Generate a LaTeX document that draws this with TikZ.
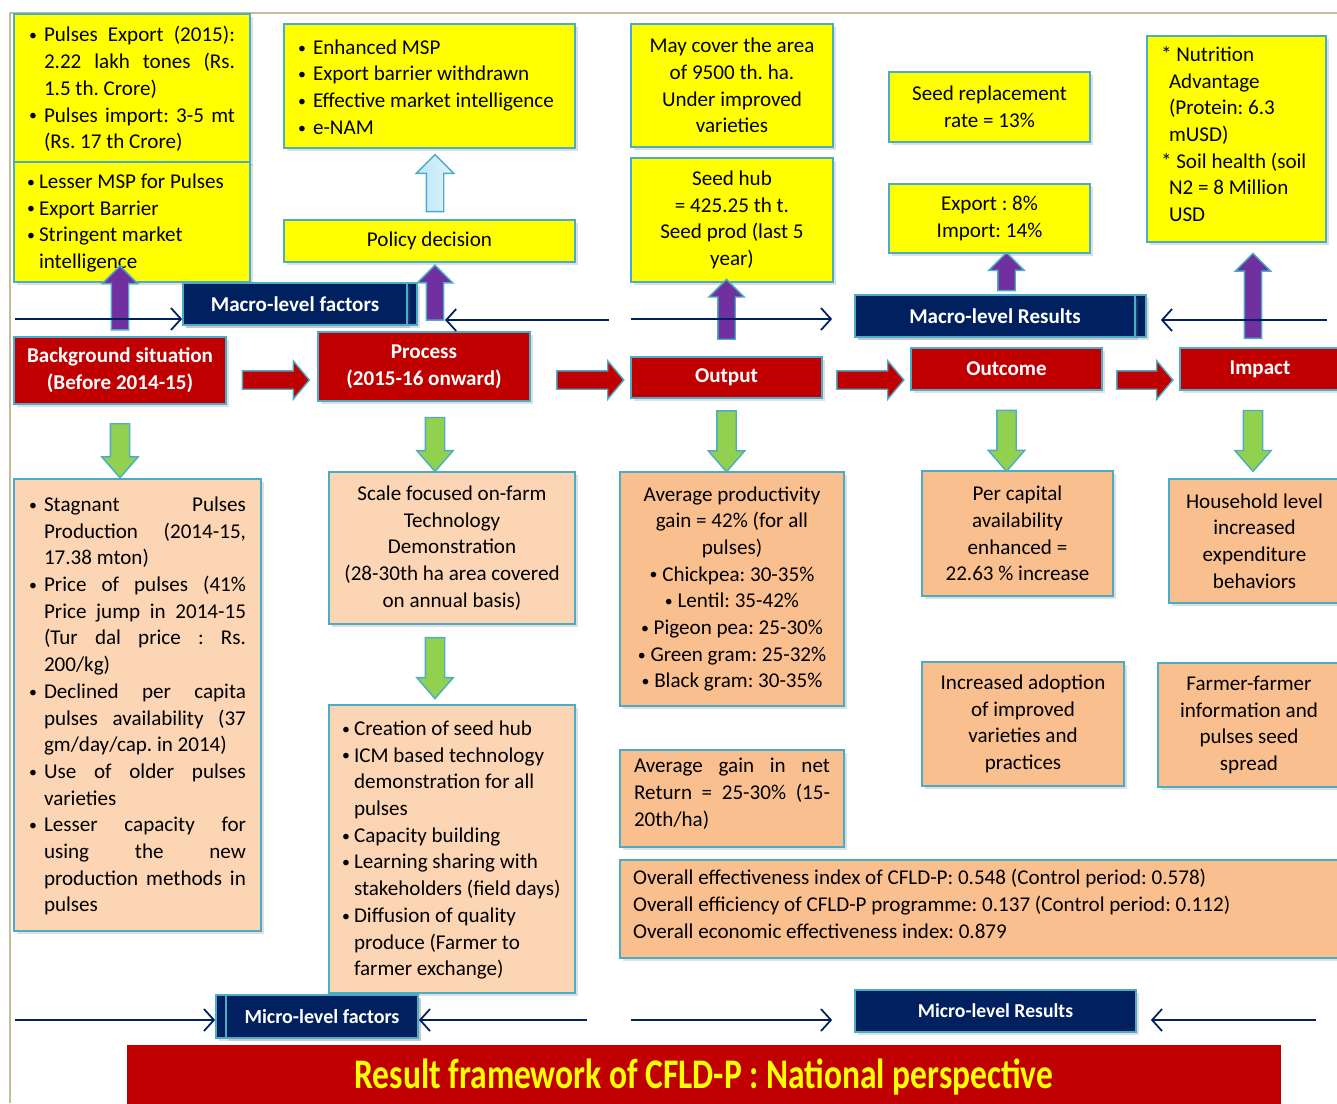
\documentclass[tikz,border=0pt]{standalone}
\usepackage{fontspec}
\setmainfont{Carlito}
\usetikzlibrary{positioning,calc,shapes.arrows,arrows.meta,shadows}

\definecolor{navyb}{RGB}{0,32,96}
\definecolor{redb}{RGB}{192,0,0}
\definecolor{cyanb}{RGB}{75,172,198}
\definecolor{yelb}{RGB}{255,255,0}
\definecolor{peachl}{RGB}{252,213,180}
\definecolor{peachd}{RGB}{250,191,143}
\definecolor{purpb}{RGB}{112,48,160}
\definecolor{greenb}{RGB}{146,208,80}
\definecolor{skyb}{RGB}{185,230,250}
\definecolor{frameb}{RGB}{196,189,151}

\frenchspacing
% small bullet, and bullet paragraph with hanging indent
\newcommand{\dotb}{\raisebox{0.12ex}{\scalebox{0.75}{\textbullet}}}
\newcommand{\bul}[1][0.3cm]{\par\hangindent=#1\hangafter=1\noindent\makebox[#1][l]{\dotb}\ignorespaces}
\newcommand{\parend}{\par\vspace*{0.2cm}}
\newcommand{\tightsp}{\spaceskip=0pt\xspaceskip=0pt}

\begin{document}
\begin{tikzpicture}[x=0.02cm, y=-0.02cm,
    font=\fontsize{12}{15.2}\selectfont,
    box/.style={rectangle, draw=cyanb, line width=1pt, align=center, inner sep=0pt,
        drop shadow={opacity=0.25, shadow xshift=1.5pt, shadow yshift=-1.5pt}},
    para/.style={text width=#1, execute at begin node=\tightsp, execute at end node=\parend},
    ybox/.style={box, fill=yelb},
    pbox/.style={box, fill=peachl},
    obox/.style={box, fill=peachd},
    rbox/.style={box, fill=redb, text=white, font=\fontsize{12}{15.2}\selectfont\bfseries},
    nbox/.style={box, fill=navyb, text=white, font=\fontsize{12}{15.2}\selectfont\bfseries},
    blk/.style={single arrow, draw=cyanb, line width=0.8pt, inner xsep=0pt, minimum width=0pt},
    redarr/.style={blk, fill=redb, inner ysep=0.17cm, single arrow head extend=0.2cm,
        single arrow tip angle=100, minimum height=1.34cm},
    purparr/.style={blk, fill=purpb, rotate=90, inner ysep=0.16cm,
        single arrow head extend=0.18cm, minimum height=#1},
    skyarr/.style={blk, left color=skyb, right color=skyb!45!white, rotate=90, inner ysep=0.16cm,
        single arrow head extend=0.2cm, minimum height=1.14cm},
    greenarr/.style={blk, fill=greenb, rotate=-90, inner ysep=0.18cm,
        single arrow head extend=0.17cm, single arrow tip angle=82, minimum height=#1},
    navyline/.style={draw=navyb, line width=1pt, -{Straight Barb[length=0.2cm, width=0.44cm]}}
]
    \useasboundingbox (0,0) rectangle (1337,1103);
    \draw[frameb, line width=1.2pt] (10,1103) -- (10,13) -- (1337,13);

    % top row
    \node[ybox, minimum width=4.72cm, minimum height=2.98cm, para=4.12cm, align=justify] (export) at (132,88.5)
        {\bul Pulses Export (2015):\linebreak 2.22 lakh tones (Rs.\linebreak 1.5 th. Crore)\bul Pulses import: 3-5 mt\linebreak (Rs. 17 th Crore)\par};
    \node[ybox, minimum width=4.72cm, minimum height=2.36cm, para=4.2cm, align=left] (lessmsp) at (132,222)
        {\bul[0.24cm] Lesser MSP for Pulses\bul[0.24cm] Export Barrier\bul[0.24cm] Stringent market\newline intelligence\par};
    \node[ybox, minimum width=5.82cm, minimum height=2.48cm, para=5.26cm, align=left] (policy) at (429.5,86)
        {\bul Enhanced MSP\bul Export barrier withdrawn\bul Effective market intelligence\bul e-NAM\par};
    \node[ybox, minimum width=5.82cm, minimum height=0.84cm] (policyd) at (429.5,241) {Policy decision};
    \node[ybox, minimum width=4.04cm, minimum height=2.46cm] (area) at (732,85.5)
        {May cover the area\\of 9500 th. ha.\\Under improved\\varieties};
    \node[ybox, minimum width=4.04cm, minimum height=2.48cm] (seedhub) at (732,220)
        {Seed hub\\= 425.25 th t.\\Seed prod (last 5\\year)};
    \node[ybox, minimum width=4.02cm, minimum height=1.4cm] (srr) at (989.5,107) {Seed replacement\\rate = 13\%};
    \node[ybox, minimum width=4.02cm, minimum height=1.38cm] (expimp) at (989.5,218.5) {Export : 8\%\\Import: 14\%};
    \node[ybox, minimum width=3.58cm, minimum height=4.12cm, para=3.02cm, align=left] (nutri) at (1236.5,139)
        {\hangindent=0.16cm\hangafter=1 * Nutrition\newline Advantage\newline (Protein: 6.3\newline mUSD)\par
         \hangindent=0.16cm\hangafter=1 * Soil health (soil\newline N2 = 8 Million\newline USD\par};

    % level labels
    \node[nbox, minimum width=4.68cm, minimum height=0.84cm] (macrofb) at (300,304) {};
    \node[nbox, minimum width=4.48cm, minimum height=0.84cm] (macrof) at (295,304) {Macro-level factors};
    \node[nbox, minimum width=5.82cm, minimum height=0.84cm] (macrorb) at (1000.5,316) {};
    \node[nbox, minimum width=5.6cm, minimum height=0.84cm] (macror) at (995,316) {Macro-level Results};

    % main flow
    \node[rbox, minimum width=4.24cm, minimum height=1.34cm] (bg) at (120,370.5) {Background situation\\(Before 2014-15)};
    \node[rbox, minimum width=4.24cm, minimum height=1.38cm] (proc) at (424,366.5) {Process\\(2015-16 onward)};
    \node[rbox, minimum width=3.82cm, minimum height=0.82cm] (outp) at (726.5,377.5) {Output};
    \node[rbox, minimum width=3.82cm, minimum height=0.84cm] (outc) at (1006.5,369) {Outcome};
    \node[rbox, minimum width=3.2cm, minimum height=0.84cm] (impact) at (1260,369) {Impact};

    % lower boxes
    \node[pbox, minimum width=4.94cm, minimum height=9.04cm, para=4.34cm, align=justify] (bgdet) at (137.5,705)
        {\bul Stagnant Pulses\linebreak Production (2014-15,\linebreak 17.38 mton)
         \bul Price of pulses (41\%\linebreak Price jump in 2014-15\linebreak (Tur dal price : Rs.\linebreak 200/kg)
         \bul Declined per capita\linebreak pulses availability (37\linebreak gm/day/cap. in 2014)
         \bul Use of older pulses\linebreak varieties
         \bul Lesser capacity for\linebreak using the new\linebreak production methods in\linebreak pulses\par};
    \node[pbox, minimum width=4.92cm, minimum height=3.04cm] (scale) at (452,548)
        {Scale focused on-farm\\Technology\\Demonstration\\(28-30th ha area covered\\on annual basis)};
    \node[pbox, minimum width=4.92cm, minimum height=5.76cm, para=4.4cm, align=left] (activ) at (452,849)
        {\bul[0.24cm] Creation of seed hub
         \bul[0.24cm] ICM based technology\newline demonstration for all\newline pulses
         \bul[0.24cm] Capacity building
         \bul[0.24cm] Learning sharing with\newline stakeholders (field days)
         \bul[0.24cm] Diffusion of quality\newline produce (Farmer to\newline farmer exchange)\par};
    \node[obox, minimum width=4.48cm, minimum height=4.68cm] (prod) at (732,589)
        {Average productivity\\gain = 42\% (for all\\pulses)\\\dotb\ Chickpea: 30-35\%\\\dotb\ Lentil: 35-42\%\\
         \dotb\ Pigeon pea: 25-30\%\\\dotb\ Green gram: 25-32\%\\\dotb\ Black gram: 30-35\%};
    \node[obox, minimum width=4.48cm, minimum height=1.94cm, para=3.92cm, align=justify] (ret) at (732,798.5)
        {Average gain in net\linebreak Return = 25-30\% (15-\linebreak 20th/ha)};
    \node[obox, minimum width=3.82cm, minimum height=2.5cm] (percap) at (1017.5,533.5)
        {Per capital\\availability\\enhanced =\\22.63 \% increase};
    \node[obox, minimum width=3.42cm, minimum height=2.48cm] (house) at (1254.5,541)
        {Household level\\increased\\expenditure\\behaviors};
    \node[obox, minimum width=4.04cm, minimum height=2.48cm] (adopt) at (1023,724)
        {Increased adoption\\of improved\\varieties and\\practices};
    \node[obox, minimum width=3.64cm, minimum height=2.48cm] (farmer) at (1249,725)
        {Farmer-farmer\\information and\\pulses seed\\spread};
    \node[obox, minimum width=14.4cm, minimum height=1.96cm, para=13.88cm, align=left] (overall) at (980,909)
        {Overall effectiveness index of CFLD-P: 0.548 (Control period: 0.578)\newline
         Overall efficiency of CFLD-P programme: 0.137 (Control period: 0.112)\newline
         Overall economic effectiveness index: 0.879};

    \node[nbox, minimum width=4.04cm, minimum height=0.86cm] (microfb) at (317,1016.5) {};
    \node[nbox, minimum width=3.84cm, minimum height=0.86cm, font=\fontsize{11.4}{13}\selectfont\bfseries] (microf) at (322,1016.5) {Micro-level factors};
    \node[nbox, minimum width=5.62cm, minimum height=0.84cm, font=\fontsize{11.2}{13}\selectfont\bfseries] (micror) at (995.5,1011) {Micro-level Results};

    \node[rectangle, fill=redb, minimum width=23.08cm, minimum height=1.3cm, text=yelb,
        font=\fontsize{24}{28}\selectfont\bfseries] (title) at (704,1077)
        {\scalebox{0.795}[1]{Result framework of CFLD-P : National perspective}};

    % block arrows
    \coordinate (pcol) at (435,0);
    \coordinate (icol) at (1253,0);
    \coordinate (ry) at (0,380);
    \path (bg.east |- ry) -- (proc.west |- ry) node[redarr, midway] {};
    \path (proc.east |- ry) -- (outp.west |- ry) node[redarr, pos=0.56] {};
    \path (outp.east |- ry) -- (outc.west |- ry) node[redarr, midway] {};
    \path (outc.east |- ry) -- (impact.west |- ry) node[redarr, midway, minimum height=1.12cm] {};

    \path (bg.north) -- (bg.north |- lessmsp.south) node[purparr=1.28cm, pos=0.64] {};
    \path (pcol |- proc.north) -- (pcol |- policyd.south) node[purparr=1.1cm, midway] {};
    \path (outp.north) -- (outp.north |- seedhub.south) node[purparr=1.2cm, pos=0.58] {};
    \path (outc.north |- macror.north) -- (outc.north |- expimp.south) node[purparr=0.76cm, pos=0.45] {};
    \path (icol |- impact.north) -- (icol |- nutri.south) node[purparr=1.7cm, pos=0.45] {};
    \path (pcol |- policyd.north) -- (pcol |- policy.south) node[skyarr, pos=0.45] {};

    \path (bg.south) -- (bg.south |- bgdet.north) node[greenarr=1.08cm, pos=0.55] {};
    \path (pcol |- proc.south) -- (pcol |- scale.north) node[greenarr=1.08cm, pos=0.535] {};
    \path (pcol |- scale.south) -- (pcol |- activ.north) node[greenarr=1.22cm, pos=0.475] {};
    \path (outp.south) -- (outp.south |- prod.north) node[greenarr=1.22cm, pos=0.51] {};
    \path (outc.south) -- (outc.south |- percap.north) node[greenarr=1.22cm, pos=0.56] {};
    \path (icol |- impact.south) -- (icol |- house.north) node[greenarr=1.22cm, pos=0.51] {};

    % level lines
    \coordinate (tl1) at (15,319);
    \coordinate (tl2) at (609,320);
    \coordinate (tl3) at (631,319);
    \coordinate (tl4) at (1327,320);
    \coordinate (bl1) at (15,1020);
    \coordinate (bl2) at (587,1020);
    \coordinate (bl3) at (631,1020);
    \coordinate (bl4) at (1316,1020);
    \draw[navyline] (tl1) -- (macrofb.west |- tl1);
    \draw[navyline, shorten >=0.2cm] (tl2) -- (pcol |- tl2);
    \draw[navyline, shorten >=0.44cm] (tl3) -- (macror.west |- tl3);
    \draw[navyline, shorten >=0.28cm] (tl4) -- (macrorb.east |- tl4);
    \draw[navyline] (bl1) -- (microfb.west |- bl1);
    \draw[navyline] (bl2) -- (microf.east |- bl2);
    \draw[navyline, shorten >=0.44cm] (bl3) -- (micror.west |- bl3);
    \draw[navyline, shorten >=0.28cm] (bl4) -- (micror.east |- bl4);
\end{tikzpicture}
\end{document}
